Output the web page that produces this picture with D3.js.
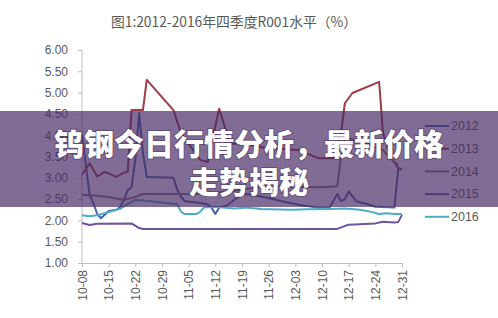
<!DOCTYPE html>
<html><head>
<meta charset="utf-8">
<script src="https://d3js.org/d3.v7.min.js"></script>
<style>
  body { margin: 0; background: #fff; }
  .line { fill: none; stroke-width: 2px; stroke-linejoin: round; }
  .axis text { font-family: "Liberation Sans", Arial, sans-serif; font-size: 12px; fill: #595959; }
  .axis path, .axis line { stroke: #bfbfbf; }
</style>
</head>
<body>
<script>
  // values, [date, R001 %]
  var d2012 = [["10-08",4.00],["10-09",3.30],["10-10",2.60],["10-11",2.40],["10-12",2.15],["10-13",2.05],
    ["10-15",2.22],["10-17",2.25],["10-18",2.31],["10-19",2.48],["10-20",2.71],["10-21",2.78],["10-22",3.42],
    ["10-23",4.52],["10-24",3.58],["10-25",3.02],["11-01",3.00],["11-02",2.72],["11-03",2.55],["11-04",2.45],
    ["11-07",2.42],["11-10",2.38],["11-11",2.30],["11-12",2.15],["11-13",2.30],["11-15",2.35],["11-18",2.55],
    ["11-20",2.62],["11-23",2.58],["11-27",2.50],["12-01",2.42],["12-05",2.35],["12-09",2.30],["12-12",2.30],
    ["12-14",2.62],["12-15",2.45],["12-16",2.50],["12-17",2.68],["12-19",2.45],["12-22",2.38],["12-24",2.32],
    ["12-29",2.30],["12-30",3.20],["12-31",3.20]];
  var d2013 = [["10-08",3.07],["10-10",3.34],["10-12",3.03],["10-14",3.14],["10-17",3.02],["10-19",3.12],
    ["10-20",3.14],["10-21",4.59],["10-24",4.59],["10-25",5.30],["11-01",4.59],["11-03",4.05],["11-05",3.80],
    ["11-08",3.42],["11-10",3.37],["11-13",4.62],["11-15",4.05],["11-16",3.80],["11-20",3.80],["11-25",3.70],
    ["12-04",3.65],["12-09",3.46],["12-13",3.46],["12-15",4.05],["12-16",4.75],["12-18",4.99],["12-25",5.25],
    ["12-26",4.07],["12-28",3.49],["12-30",3.23],["12-31",3.20]];
  var d2014 = [["10-08",2.60],["10-12",2.58],["10-15",2.55],["10-19",2.48],["10-22",2.55],["10-24",2.62],
    ["11-10",2.62],["11-19",2.72],["11-25",2.80],["12-10",2.78],["12-14",2.80],["12-15",3.50],["12-16",3.95],
    ["12-22",3.80],["12-26",3.65],["12-28",3.45],["12-30",3.30]];
  var d2015 = [["10-08",1.94],["10-10",1.89],["10-12",1.92],["10-21",1.93],["10-23",1.82],["10-24",1.80],
    ["12-14",1.80],["12-17",1.90],["12-24",1.93],["12-26",1.97],["12-29",1.95],["12-30",1.96],["12-31",2.13]];
  var d2016 = [["10-08",2.12],["10-10",2.10],["10-12",2.12],["10-14",2.17],["10-16",2.22],["10-18",2.27],
    ["10-20",2.38],["10-22",2.48],["10-25",2.46],["10-29",2.42],["11-02",2.38],["11-03",2.20],["11-04",2.15],
    ["11-07",2.15],["11-08",2.20],["11-09",2.30],["11-12",2.32],["11-14",2.30],["11-17",2.28],["11-20",2.30],
    ["11-24",2.27],["12-02",2.25],["12-06",2.26],["12-12",2.27],["12-16",2.28],["12-20",2.25],["12-23",2.20],
    ["12-25",2.15],["12-27",2.17],["12-29",2.15],["12-31",2.15]];

  var seriesNames = ["2012","2013","2014","2015","2016"];
  var seriesData = [d2012, d2013, d2014, d2015, d2016];
  var colors = ["#4a63a8","#9e3d48","#867a72","#6c54a0","#4bacc6"];
  var xTicks = ["10-08","10-15","10-22","10-29","11-05","11-12","11-19","11-26","12-03","12-10","12-17","12-24","12-31"];
  var yTicks = [1, 1.5, 2, 2.5, 3, 3.5, 4, 4.5, 5, 5.5, 6];
  var title = "图1:2012-2016年四季度R001水平（%）";
  var banner = ["钨钢今日行情分析，最新价格", "走势揭秘"];

  var width = 498, height = 318;
  var parseDate = d3.timeParse("%m-%d");
  var fmt = d3.timeFormat("%m-%d");

  var x = d3.scaleTime().domain([parseDate("10-08"), parseDate("12-31")]).range([82, 402]);
  var y = d3.scaleLinear().domain([1, 6]).range([263, 50]);

  var svg = d3.select("body").append("svg")
    .attr("width", width).attr("height", height);

  svg.append("text")
    .attr("x", 234).attr("y", 21)
    .attr("text-anchor", "middle").attr("dominant-baseline", "central")
    .style("font-family", "'Noto Sans CJK SC', sans-serif").style("font-size", "13.8px")
    .style("fill", "#595959")
    .text(title);

  svg.append("g").attr("class", "axis")
    .attr("transform", "translate(82,0)")
    .call(d3.axisLeft(y).tickValues(yTicks).tickFormat(d3.format(".2f")).tickSize(4).tickPadding(10))
    .call(function(g) { g.select(".domain").attr("d", "M0,263V50"); });

  svg.append("g").attr("class", "axis")
    .attr("transform", "translate(0,263)")
    .call(d3.axisBottom(x).tickValues(xTicks.map(parseDate)).tickFormat(fmt).tickSize(4).tickSizeOuter(0))
    .selectAll("text")
      .attr("transform", "rotate(-90)")
      .attr("x", -7).attr("y", 0).attr("dy", "0.35em")
      .style("text-anchor", "end");

  var valueline = d3.line()
    .x(function(d) { return x(parseDate(d[0])); })
    .y(function(d) { return y(d[1]); });

  seriesData.forEach(function(data, i) {
    svg.append("path")
      .datum(data)
      .attr("class", "line")
      .style("stroke", colors[i])
      .attr("d", valueline);
  });

  var legend = svg.append("g");
  seriesNames.forEach(function(name, i) {
    var ly = 126 + i * 22.7;
    legend.append("line")
      .attr("x1", 425).attr("x2", 449).attr("y1", ly).attr("y2", ly)
      .style("stroke", colors[i]).style("stroke-width", 2);
    legend.append("text")
      .attr("x", 451).attr("y", ly).attr("dy", "0.35em")
      .style("font-family", "'Liberation Sans', Arial, sans-serif").style("font-size", "12.5px")
      .style("fill", "#595959")
      .text(name);
  });

  // translucent banner over the chart
  svg.append("rect")
    .attr("x", 0).attr("y", 111).attr("width", width).attr("height", 96)
    .style("fill", "rgba(72,42,102,0.69)");

  banner.forEach(function(t, i) {
    svg.append("text")
      .attr("x", 249).attr("y", 142 + i * 38)
      .attr("text-anchor", "middle").attr("dominant-baseline", "central")
      .style("font-family", "'Noto Sans CJK SC', sans-serif").style("font-weight", "900")
      .style("font-size", "30px").style("fill", "#fff")
      .style("paint-order", "stroke").style("stroke", "rgba(40,20,60,0.35)").style("stroke-width", "2px")
      .text(t);
  });
</script>
</body></html>
